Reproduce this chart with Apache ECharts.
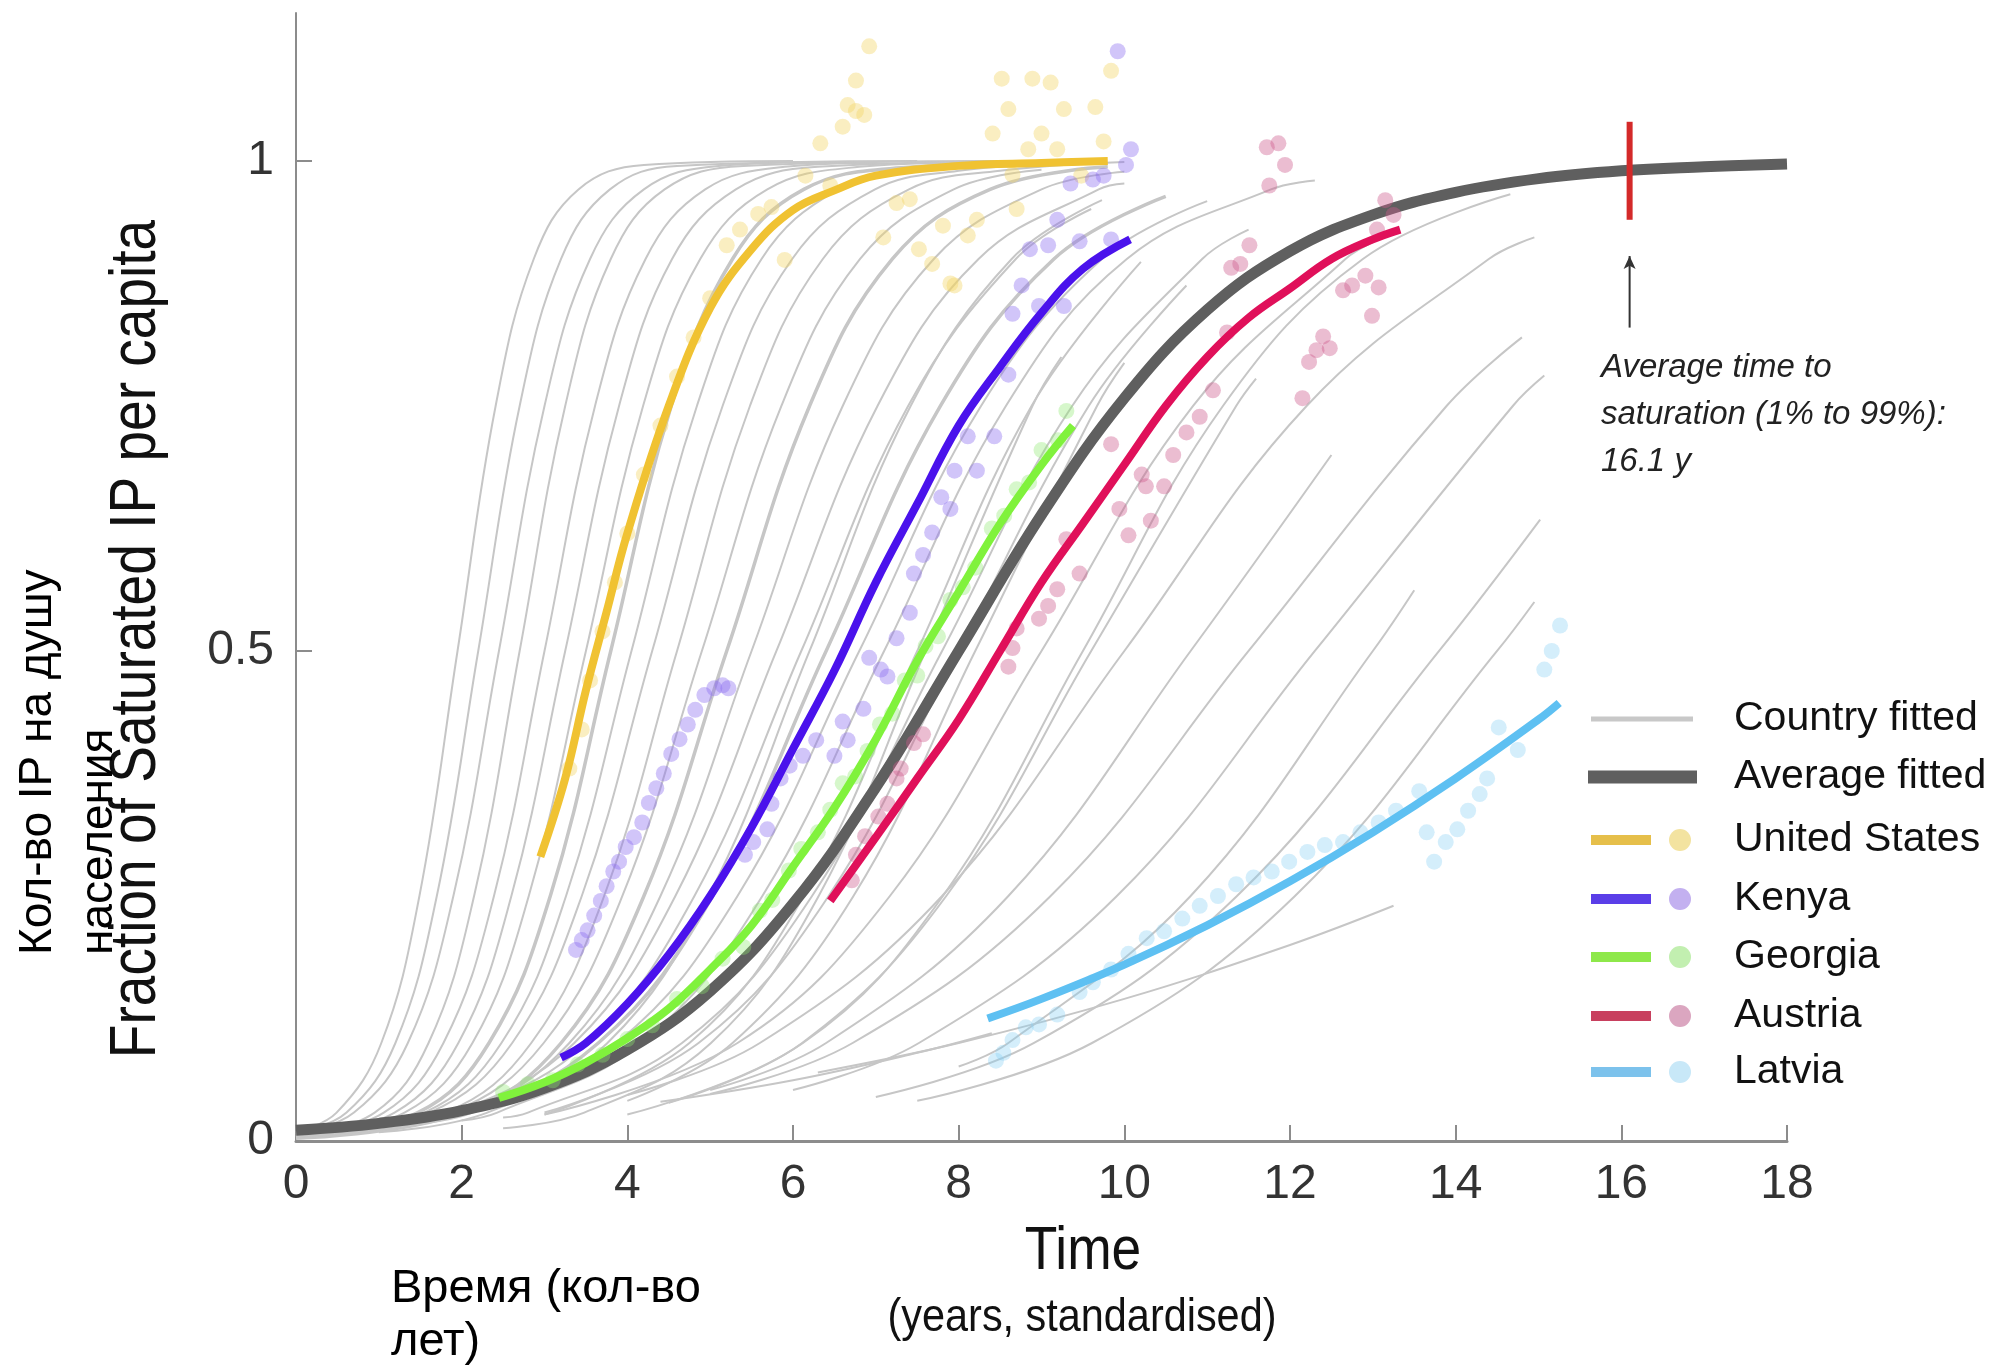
<!DOCTYPE html>
<html>
<head>
<meta charset="utf-8">
<script src="https://cdn.jsdelivr.net/npm/echarts@6/dist/echarts.min.js"></script>
<style>
  html, body { margin: 0; padding: 0; background: #fff; }
  #chart { width: 1996px; height: 1370px; }
</style>
</head>
<body>
<div id="chart"></div>
<script>
// axis ticks
const xTicks = [0, 2, 4, 6, 8, 10, 12, 14, 16, 18]
const yTicks = [0, 0.5, 1]

// thin grey fitted curves, one per country as [time, fraction]
const countryCurves = [
  [[0,0.009],[0.49,0.029],[1.03,0.1],[1.49,0.25],[1.95,0.5],[2.41,0.75],[2.87,0.9],[3.41,0.971],[4.2,0.996],[6,1]],
  [[0,0.008],[0.61,0.029],[1.2,0.1],[1.7,0.25],[2.2,0.5],[2.7,0.75],[3.2,0.9],[3.79,0.971],[4.6,0.995],[7.5,1]],
  [[0,0.007],[0.7,0.029],[1.35,0.1],[1.9,0.25],[2.45,0.5],[3.0,0.75],[3.55,0.9],[4.2,0.971],[5.1,0.995],[6.5,0.999]],
  [[0,0.005],[0.95,0.029],[1.6,0.1],[2.15,0.25],[2.7,0.5],[3.25,0.75],[3.8,0.9],[4.45,0.971],[5.4,0.995],[8.5,1]],
  [[0,0.005],[1.06,0.029],[1.78,0.1],[2.39,0.25],[3.0,0.5],[3.61,0.75],[4.22,0.9],[4.94,0.971],[5.9,0.994],[7,0.998]],
  [[0,0.004],[1.19,0.029],[1.96,0.1],[2.6,0.25],[3.25,0.5],[3.9,0.75],[4.54,0.9],[5.31,0.971],[6.3,0.994],[9,1]],
  [[0,0.004],[1.31,0.029],[2.13,0.1],[2.81,0.25],[3.5,0.5],[4.19,0.75],[4.88,0.9],[5.69,0.971],[6.8,0.994],[8,0.998]],
  [[0,0.003],[1.47,0.029],[2.33,0.1],[3.07,0.25],[3.8,0.5],[4.53,0.75],[5.27,0.9],[6.13,0.971],[7.3,0.993],[9.5,0.999]],
  [[0,0.003],[1.55,0.029],[2.48,0.1],[3.26,0.25],[4.05,0.5],[4.84,0.75],[5.62,0.9],[6.55,0.971],[7.5,0.99]],
  [[0,0.004],[1.61,0.029],[2.61,0.1],[3.45,0.25],[4.3,0.5],[5.15,0.75],[5.99,0.9],[6.99,0.971],[8,0.99],[9,0.996]],
  [[0,0.003],[1.8,0.029],[2.84,0.1],[3.72,0.25],[4.6,0.5],[5.48,0.75],[6.36,0.9],[7.4,0.971],[8.5,0.99],[10,0.999]],
  [[0,0.004],[1.86,0.029],[2.99,0.1],[3.94,0.25],[4.9,0.5],[5.86,0.75],[6.81,0.9],[7.94,0.971],[9,0.991]],
  [[0,0.003],[2.02,0.029],[3.2,0.1],[4.2,0.25],[5.2,0.5],[6.2,0.75],[7.2,0.9],[8.38,0.971],[9.8,0.994]],
  [[0,0.004],[2.0,0.029],[3.3,0.1],[4.4,0.25],[5.5,0.5],[6.6,0.75],[7.7,0.9],[9.0,0.971],[10,0.989]],
  [[0.5,0.008],[1.91,0.029],[3.36,0.1],[4.58,0.25],[5.8,0.5],[7.02,0.75],[8.24,0.9],[9.69,0.971],[10,0.977]],
  [[1,0.013],[1.98,0.029],[3.51,0.1],[4.81,0.25],[6.1,0.5],[7.39,0.75],[8.69,0.9],[9.6,0.951]],
  [[0,0.006],[2.03,0.029],[3.65,0.1],[5.03,0.25],[6.4,0.5],[7.78,0.75],[9.15,0.9],[10.5,0.964]],
  [[1.5,0.018],[2.13,0.029],[3.87,0.1],[5.33,0.25],[6.8,0.5],[8.27,0.75],[9.73,0.9],[11,0.959]],
  [[2,0.021],[2.43,0.029],[4.17,0.1],[5.63,0.25],[7.1,0.5],[8.57,0.75],[10.03,0.9],[11.77,0.971],[12.3,0.98]],
  [[3,0.027],[4.75,0.1],[6.13,0.25],[7.5,0.5],[8.88,0.75],[10.2,0.897]],
  [[2.5,0.024],[2.8,0.029],[4.66,0.1],[6.23,0.25],[7.8,0.5],[9.37,0.75],[10.94,0.9],[11.5,0.93]],
  [[4,0.041],[5.27,0.1],[6.73,0.25],[8.2,0.5],[9.67,0.75],[10,0.794]],
  [[3,0.029],[4.86,0.1],[6.43,0.25],[8,0.5],[9.57,0.75],[10.75,0.873]],
  [[2.5,0.013],[3.48,0.029],[5.01,0.1],[6.31,0.25],[7.6,0.5],[8.89,0.75],[9.24,0.8]],
  [[4.5,0.039],[6.11,0.1],[7.85,0.25],[9.6,0.5],[11.35,0.75],[11.59,0.778]],
  [[1,0.009],[2.31,0.029],[3.76,0.1],[4.98,0.25],[6.2,0.5],[7.42,0.75],[8.64,0.9],[9.73,0.96]],
  [[4,0.027],[6.12,0.1],[7.81,0.25],[9.5,0.5],[11.19,0.75],[12.88,0.9],[14.66,0.966]],
  [[3,0.027],[5.33,0.1],[7.17,0.25],[9,0.5],[10.83,0.75],[12.67,0.9],[13,0.917]],
  [[4,0.047],[5.6,0.1],[7.8,0.25],[10,0.5],[12.2,0.75],[14.4,0.9],[14.95,0.922]],
  [[5,0.052],[6.4,0.1],[8.6,0.25],[10.8,0.5],[12.5,0.7]],
  [[5,0.048],[6.72,0.1],[9.11,0.25],[11.5,0.5],[13.89,0.75],[14.8,0.82]],
  [[6,0.052],[7.52,0.1],[9.91,0.25],[12.3,0.5],[14.69,0.75],[15.07,0.781]],
  [[8,0.076],[8.6,0.1],[10.8,0.25],[13,0.5],[13.5,0.562]],
  [[7,0.045],[8.91,0.1],[11.36,0.25],[13.8,0.5],[15.02,0.634]],
  [[7.5,0.041],[9.61,0.1],[12.06,0.25],[14.5,0.5],[14.95,0.55]],
  [[6.3,0.07],[8,0.1],[10,0.145],[12,0.2],[13.25,0.24]],
  [[4.4,0.04],[6,0.062],[7.5,0.09],[8.4,0.11]]
]
const thickCurves = [7, 12, 16]

// average fitted curve
const averageFit = [[0,0.011],[1,0.018],[2,0.031],[3,0.054],[4,0.093],[5,0.153],[6,0.242],[7,0.361],[8,0.5],[9,0.639],[10,0.758],[11,0.848],[12,0.908],[13,0.945],[14,0.968],[15,0.982],[16,0.99],[17,0.994],[18,0.997]]

// highlighted country fits
const usFit = [[2.95,0.29],[3.25,0.37],[3.5,0.46],[3.75,0.54],[4.0,0.62],[4.5,0.75],[5.0,0.85],[5.5,0.91],[6.0,0.95],[6.5,0.97],[7.0,0.985],[8.0,0.995],[9.0,0.998],[9.8,1.0]]
const kenyaFit = [[3.2,0.085],[3.5,0.1],[4,0.14],[4.5,0.19],[5,0.25],[5.5,0.32],[6,0.4],[6.5,0.48],[7,0.57],[7.5,0.65],[8,0.73],[8.5,0.79],[9,0.845],[9.5,0.89],[10.07,0.92]]
const georgiaFit = [[2.45,0.044],[3,0.06],[3.5,0.08],[4,0.105],[4.5,0.135],[5,0.175],[5.5,0.22],[6,0.28],[6.5,0.34],[7,0.41],[7.5,0.49],[8,0.56],[8.5,0.63],[9,0.69],[9.38,0.73]]
const austriaFit = [[6.45,0.245],[7,0.31],[7.5,0.37],[8,0.43],[8.5,0.5],[9,0.57],[9.5,0.63],[10,0.69],[10.5,0.75],[11,0.8],[11.5,0.84],[12,0.87],[12.5,0.9],[13,0.92],[13.33,0.93]]
const latviaFit = [[8.35,0.125],[9,0.145],[10,0.18],[11,0.22],[12,0.265],[13,0.315],[14,0.37],[15,0.43],[15.25,0.447]]

// observed points
const usDots = [[6.92,1.117],[6.76,1.082],[6.66,1.057],[6.76,1.051],[6.86,1.047],[6.60,1.035],[6.33,1.018],
  [8.52,1.084],[8.89,1.084],[9.11,1.080],[8.60,1.053],[9.27,1.053],[9.65,1.055],[8.41,1.028],[9.00,1.028],[8.84,1.012],[9.19,1.012],[9.75,1.020],[9.84,1.092],
  [8.70,0.951],[7.81,0.934],[8.22,0.940],[8.11,0.924],[7.52,0.910],[7.68,0.895],[7.90,0.875],[7.95,0.873],
  [5.90,0.899],[5.20,0.914],[5.36,0.930],[5.58,0.946],[5.74,0.953],[7.25,0.957],[7.41,0.961],[7.09,0.922],[8.65,0.986],[9.48,0.985],
  [6.15,0.985],[6.45,0.975],[3.3,0.38],[3.45,0.42],[3.55,0.47],[3.7,0.52],[3.85,0.57],[4.0,0.62],[4.2,0.68],[4.4,0.73],[4.6,0.78],[4.8,0.82],[5.0,0.86]]
const kenyaDots = [[3.38,0.195],[3.45,0.205],[3.52,0.215],[3.6,0.23],[3.68,0.245],[3.75,0.26],[3.83,0.275],[3.9,0.285],[3.98,0.3],[4.08,0.31],[4.18,0.325],[4.26,0.345],[4.35,0.36],[4.44,0.375],[4.53,0.395],[4.63,0.41],[4.73,0.425],[4.82,0.44],[4.93,0.455],[5.05,0.462],[5.15,0.465],[5.22,0.462],
  [5.42,0.292],[5.52,0.305],[5.69,0.318],[5.74,0.344],[5.85,0.370],[5.96,0.383],[6.12,0.393],[6.28,0.409],[6.50,0.393],[6.66,0.409],[6.60,0.428],[6.85,0.441],[7.14,0.474],[7.06,0.481],[6.92,0.493],[7.25,0.513],[7.41,0.539],
  [7.46,0.579],[7.57,0.598],[7.68,0.621],[7.90,0.645],[7.79,0.657],[7.95,0.684],[8.22,0.684],[8.11,0.719],[8.43,0.719],[8.60,0.782],
  [8.65,0.844],[8.97,0.852],[9.27,0.852],[8.76,0.873],[8.86,0.910],[9.08,0.914],[9.46,0.918],[9.84,0.920],[9.19,0.940],
  [9.35,0.977],[9.62,0.981],[9.75,0.985],[10.02,0.996],[10.08,1.012],[9.92,1.112]]
const georgiaDots = [[2.5,0.05],[2.8,0.058],[3.1,0.062],[3.4,0.078],[3.7,0.088],[4.0,0.104],[4.3,0.118],[4.6,0.145],[4.9,0.158],[5.15,0.186],[5.4,0.198],[5.6,0.235],[5.75,0.246],[5.95,0.276],[6.1,0.298],[6.3,0.315],[6.45,0.338],[6.6,0.365],[6.75,0.372],[6.9,0.398],[7.05,0.425],[7.2,0.436],[7.35,0.47],[7.5,0.475],[7.6,0.505],[7.75,0.515],[7.9,0.552],[8.05,0.565],[8.2,0.585],[8.4,0.625],[8.55,0.638],[8.7,0.665],[8.85,0.672],[9.0,0.705],[9.2,0.715],[9.3,0.745]]
const austriaDots = [[6.71,0.266],[6.76,0.292],[6.87,0.311],[7.03,0.331],[7.14,0.344],[7.25,0.370],[7.30,0.380],[7.46,0.406],[7.57,0.415],[8.60,0.484],[8.65,0.503],[8.70,0.523],[8.97,0.533],[9.08,0.546],[9.19,0.563],[9.46,0.579],[9.30,0.614],[10.05,0.618],[10.32,0.633],[9.94,0.645],[10.26,0.668],[10.48,0.668],[10.21,0.680],[10.59,0.700],[9.84,0.711],[10.75,0.723],[10.91,0.739],[12.15,0.758],[11.07,0.766],[12.23,0.795],[12.32,0.807],[12.48,0.809],[12.40,0.821],[11.24,0.825],[12.99,0.842],[12.64,0.868],[13.07,0.871],[12.75,0.873],[12.91,0.883],[11.29,0.891],[11.40,0.895],[11.51,0.914],[11.75,0.975],[11.94,0.996],[11.72,1.014],[11.86,1.018],[13.05,0.93],[13.15,0.96],[13.25,0.945]]
const latviaDots = [[8.45,0.082],[8.54,0.090],[8.65,0.103],[8.81,0.116],[8.97,0.119],[9.19,0.129],[9.46,0.152],[9.62,0.162],[9.84,0.175],[10.05,0.191],[10.27,0.207],[10.48,0.214],[10.70,0.227],[10.91,0.240],[11.13,0.250],[11.35,0.262],[11.56,0.269],[11.78,0.275],[11.99,0.285],[12.21,0.295],[12.42,0.302],[12.64,0.305],[12.85,0.315],[13.07,0.325],[13.28,0.337],[13.56,0.357],[13.65,0.315],[13.74,0.285],[13.88,0.305],[14.02,0.318],[14.15,0.337],[14.29,0.354],[14.38,0.370],[14.52,0.422],[14.75,0.399],[15.07,0.481],[15.16,0.500],[15.26,0.526]]

// 16.1 year marker and arrow
const saturationMark = [[16.1,0.94],[16.1,1.04]]
const arrowPts = [[16.1,0.83],[16.1,0.903]]

const legendRows = ['Country fitted', 'Average fitted', 'United States', 'Kenya', 'Georgia', 'Austria', 'Latvia']
const countryColors = {
  us: ['#f0c232', 'rgba(242,212,100,0.5)'],
  kenya: ['#4a12ec', 'rgba(140,110,240,0.5)'],
  georgia: ['#80f23c', 'rgba(140,232,110,0.45)'],
  austria: ['#e0105a', 'rgba(205,90,140,0.5)'],
  latvia: ['#5ec0f2', 'rgba(135,208,245,0.45)']
}

const FONT = "'Liberation Sans', Arial, sans-serif"

const series = []
countryCurves.forEach((pts, i) => {
  series.push({
    type: 'line', data: pts, smooth: 0.4, showSymbol: false, symbol: 'none',
    lineStyle: { color: '#c6c6c6', width: thickCurves.includes(i) ? 3.5 : 2 }, z: 2, silent: true
  })
})
series.push({
  type: 'line', data: averageFit, smooth: 0.4, showSymbol: false, symbol: 'none',
  lineStyle: { color: '#5f5f5f', width: 11 }, z: 3, silent: true
})
const dots = [['us', usDots], ['kenya', kenyaDots], ['georgia', georgiaDots], ['austria', austriaDots], ['latvia', latviaDots]]
dots.forEach(([k, d]) => {
  series.push({
    type: 'scatter', data: d, symbolSize: 16, itemStyle: { color: countryColors[k][1] }, z: 4, silent: true
  })
})
const fits = [['us', usFit], ['kenya', kenyaFit], ['georgia', georgiaFit], ['austria', austriaFit], ['latvia', latviaFit]]
fits.forEach(([k, d]) => {
  series.push({
    type: 'line', data: d, smooth: 0.4, showSymbol: false, symbol: 'none',
    lineStyle: { color: countryColors[k][0], width: 8, cap: 'butt' }, z: 5, silent: true
  })
})
series.push({
  type: 'line', data: saturationMark, showSymbol: false, symbol: 'none',
  lineStyle: { color: '#d42a2a', width: 6 }, z: 6, silent: true
})
series.push({
  type: 'line',
  data: [{ value: arrowPts[0], symbol: 'none' }, { value: arrowPts[1], symbol: 'arrow', symbolSize: [9, 13] }],
  showSymbol: true, lineStyle: { color: '#333', width: 2 }, itemStyle: { color: '#333' }, z: 6, silent: true
})

// legend drawn as graphic items
const rowY = [719, 777, 840, 899, 957, 1016, 1072]
const legendColors = [null, null, ['#e6bf4a', '#f3e3a0'], ['#5a3ee8', '#c3b0f0'], ['#8ee84a', '#c2efb0'], ['#c8405e', '#dba6c0'], ['#7cc2ec', '#c8e8f8']]
const graphic = []
legendRows.forEach((name, i) => {
  const y = rowY[i]
  if (i === 0) {
    graphic.push({ type: 'line', shape: { x1: 1591, y1: y, x2: 1693, y2: y }, style: { stroke: '#c8c8c8', lineWidth: 5 } })
  } else if (i === 1) {
    graphic.push({ type: 'line', shape: { x1: 1588, y1: y, x2: 1697, y2: y }, style: { stroke: '#5f5f5f', lineWidth: 13 } })
  } else {
    graphic.push({ type: 'line', shape: { x1: 1591, y1: y, x2: 1651, y2: y }, style: { stroke: legendColors[i][0], lineWidth: 10 } })
    graphic.push({ type: 'circle', shape: { cx: 1680, cy: y, r: 11 }, style: { fill: legendColors[i][1] } })
  }
  graphic.push({ type: 'text', x: 1734, y: y, style: { text: name, font: '41px ' + FONT, fill: '#111', align: 'left', verticalAlign: 'middle' } })
})
graphic.push(
  { type: 'text', x: 1083, y: 1252, scaleX: 0.86, style: { text: 'Time', font: '62px ' + FONT, fill: '#111', align: 'center', verticalAlign: 'middle' } },
  { type: 'text', x: 1082, y: 1318, scaleX: 0.9, style: { text: '(years, standardised)', font: '46px ' + FONT, fill: '#111', align: 'center', verticalAlign: 'middle' } },
  { type: 'text', x: 137, y: 639, rotation: Math.PI / 2, scaleX: 0.86, style: { text: 'Fraction of Saturated IP per capita', font: '64px ' + FONT, fill: '#111', align: 'center', verticalAlign: 'middle' } },
  { type: 'text', x: 8, y: 955, rotation: Math.PI / 2, style: { text: 'Кол-во IP на душу\nнаселения', font: '46px ' + FONT, lineHeight: 61, fill: '#000', align: 'left', verticalAlign: 'top' } },
  { type: 'text', x: 391, y: 1263, style: { text: 'Время (кол-во\nлет)', font: '47px ' + FONT, lineHeight: 53, fill: '#000', align: 'left', verticalAlign: 'top' } },
  { type: 'text', x: 1601, y: 344, style: { text: 'Average time to\nsaturation (1% to 99%):\n16.1 y', font: 'italic 33px ' + FONT, lineHeight: 47, fill: '#222', align: 'left', verticalAlign: 'top' } }
)

const chart = echarts.init(document.getElementById('chart'), null, { renderer: 'canvas' })
chart.setOption({
  animation: false,
  backgroundColor: '#fff',
  grid: { left: 296, right: 209, top: 13, bottom: 229 },
  xAxis: {
    type: 'value', min: xTicks[0], max: xTicks[xTicks.length - 1], interval: 2,
    axisLine: { lineStyle: { color: '#8c8c8c', width: 3 } },
    axisTick: { inside: true, length: 16, lineStyle: { color: '#8c8c8c', width: 2 } },
    axisLabel: { fontSize: 48, fontFamily: FONT, color: '#333', margin: 20 },
    splitLine: { show: false }
  },
  yAxis: {
    type: 'value', min: 0, max: 1.151, interval: 0.5,
    axisLine: { show: true, lineStyle: { color: '#8c8c8c', width: 2 } },
    axisTick: { inside: true, length: 16, customValues: yTicks, lineStyle: { color: '#8c8c8c', width: 2 } },
    axisLabel: { fontSize: 48, fontFamily: FONT, color: '#333', margin: 22, customValues: yTicks, formatter: v => String(v) },
    splitLine: { show: false }
  },
  series: series,
  graphic: graphic
})
</script>
</body>
</html>
